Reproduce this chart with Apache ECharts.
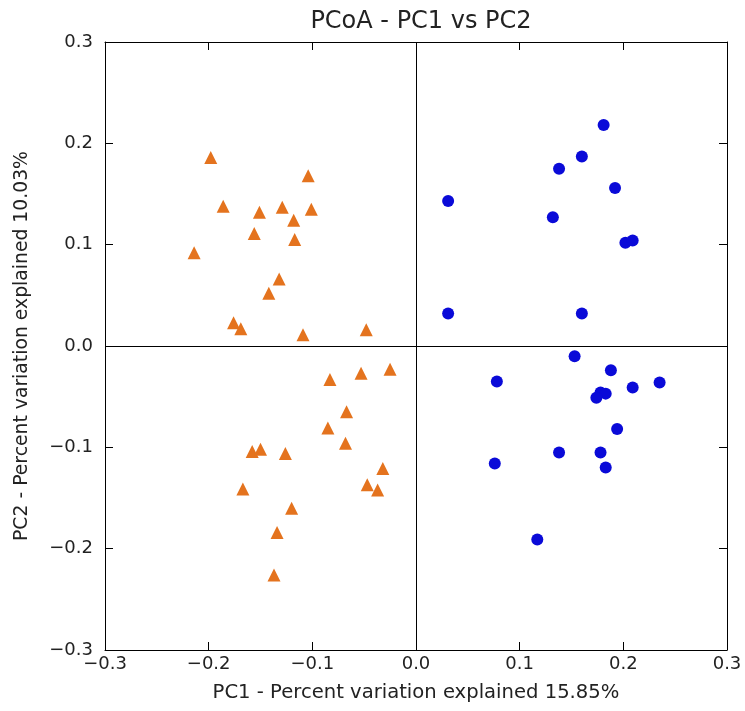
<!DOCTYPE html>
<html>
<head>
<meta charset="utf-8" />
<title>PCoA - PC1 vs PC2</title>
<script src="https://cdn.jsdelivr.net/npm/echarts@6/dist/echarts.min.js"></script>
<style>
html, body { margin: 0; padding: 0; width: 100%; height: 100%; background: #fff; }
#container { width: 745px; height: 711px; }
</style>
</head>
<body>
<div id="container"></div>
<script>
// group 1 (orange triangles): [PC1, PC2]
var groupA = [
  [-0.198, 0.186], [-0.104, 0.168], [-0.186, 0.138], [-0.151, 0.132],
  [-0.129, 0.137], [-0.101, 0.135], [-0.118, 0.124], [-0.156, 0.111],
  [-0.117, 0.105], [-0.214, 0.092], [-0.132, 0.066], [-0.142, 0.052],
  [-0.176, 0.023], [-0.169, 0.017], [-0.109, 0.011], [-0.048, 0.016],
  [-0.083, -0.033], [-0.053, -0.027], [-0.025, -0.023], [-0.067, -0.065],
  [-0.085, -0.081], [-0.068, -0.096], [-0.158, -0.104], [-0.150, -0.102],
  [-0.126, -0.106], [-0.032, -0.121], [-0.167, -0.141], [-0.047, -0.137],
  [-0.037, -0.142], [-0.120, -0.160], [-0.134, -0.184], [-0.137, -0.226]
];
// group 2 (blue circles)
var groupB = [
  [0.181, 0.218], [0.160, 0.187], [0.138, 0.175], [0.192, 0.156],
  [0.031, 0.143], [0.132, 0.127], [0.202, 0.102], [0.209, 0.104],
  [0.031, 0.032], [0.160, 0.032],
  [0.153, -0.010], [0.188, -0.024], [0.078, -0.035], [0.209, -0.041],
  [0.235, -0.036], [0.178, -0.046], [0.183, -0.047], [0.174, -0.051],
  [0.194, -0.082], [0.138, -0.105], [0.178, -0.105], [0.183, -0.120],
  [0.076, -0.116], [0.117, -0.191]
];
var axisMin = -0.3, axisMax = 0.3, axisStep = 0.1;
var titleText = 'PCoA - PC1 vs PC2';
var xName = 'PC1 - Percent variation explained 15.85%';
var yName = 'PC2 - Percent variation explained 10.03%';

var font = 'DejaVu Sans';
function fmt(v) {
  var s = v.toFixed(1);
  if (s === '-0.0') s = '0.0';
  return s.replace('-', '\u2212');
}
var lineStyle = { color: '#000', width: 1 };
var tick = { show: true, inside: true, length: 8, lineStyle: lineStyle };
var labelStyle = { fontFamily: font, fontSize: 18, color: '#222' };

var myChart = echarts.init(document.getElementById('container'));
var option = {
  animation: false,
  backgroundColor: '#fff',
  title: {
    text: titleText,
    left: 416, top: 5, textAlign: 'center',
    textStyle: { fontFamily: font, fontSize: 24, fontWeight: 'normal', color: '#222' }
  },
  grid: { left: 105, right: 18, top: 42, bottom: 61 },
  xAxis: [{
    type: 'value', min: axisMin, max: axisMax, interval: axisStep,
    position: 'bottom',
    name: xName, nameLocation: 'middle', nameGap: 33,
    nameTextStyle: { fontFamily: font, fontSize: 19.6, color: '#222' },
    axisLine: { onZero: false, lineStyle: lineStyle },
    axisTick: tick,
    splitLine: { show: false },
    axisLabel: Object.assign({ margin: 5, formatter: fmt }, labelStyle)
  }, {
    type: 'value', min: axisMin, max: axisMax, interval: axisStep,
    position: 'top',
    axisLine: { onZero: false, lineStyle: lineStyle },
    axisTick: tick,
    splitLine: { show: false },
    axisLabel: { show: false }
  }],
  yAxis: [{
    type: 'value', min: axisMin, max: axisMax, interval: axisStep,
    position: 'left',
    name: yName, nameLocation: 'middle', nameGap: 73, nameRotate: 90,
    nameTextStyle: { fontFamily: font, fontSize: 18.8, color: '#222' },
    axisLine: { onZero: false, lineStyle: lineStyle },
    axisTick: tick,
    splitLine: { show: false },
    axisLabel: Object.assign({ margin: 12, formatter: fmt }, labelStyle)
  }, {
    type: 'value', min: axisMin, max: axisMax, interval: axisStep,
    position: 'right',
    axisLine: { onZero: false, lineStyle: lineStyle },
    axisTick: tick,
    splitLine: { show: false },
    axisLabel: { show: false }
  }],
  series: [{
    type: 'scatter',
    data: groupA,
    symbol: 'triangle',
    symbolSize: 13,
    itemStyle: { color: '#e4731e', opacity: 1 },
    markLine: {
      silent: true,
      symbol: ['none', 'none'],
      label: { show: false },
      lineStyle: { color: '#000', width: 1, type: 'solid' },
      data: [{ xAxis: 0 }, { yAxis: 0 }]
    },
    z: 3
  }, {
    type: 'scatter',
    data: groupB,
    symbol: 'circle',
    symbolSize: 12,
    itemStyle: { color: '#0a0ad8', opacity: 1 },
    z: 3
  }]
};
myChart.setOption(option);
</script>
</body>
</html>
